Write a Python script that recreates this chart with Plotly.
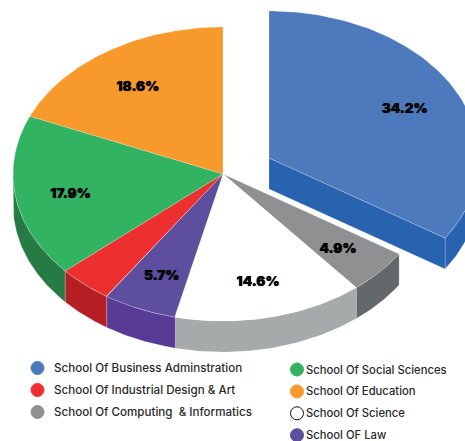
import numpy as np
import plotly.graph_objects as go

# Data, clockwise from 12 o'clock
schools = ["School Of Business Adminstration", "School Of Computing  & Informatics", "School Of Science",
           "School OF Law", "School Of Industrial Design & Art", "School Of Social Sciences", "School Of Education"]
shares = [34.2, 4.9, 14.6, 5.7, 4.2, 17.9, 18.6]
show_label = [True, True, True, True, False, True, True]
top_colors = ["#4C7ABD", "#8F9092", "#FFFFFF", "#5D4E9E", "#EE2F2F", "#32B362", "#F7992B"]
side_colors = ["#2863B0", "#63686A", "#A7AAAA", "#573B96", "#B51F24", "#267A43", "#D9861F"]
legend_left = ["School Of Business Adminstration", "School Of Industrial Design & Art", "School Of Computing  & Informatics"]
legend_right = ["School Of Social Sciences", "School Of Education", "School Of Science", "School OF Law"]

W, H = 465, 441
CX, CY, RX, RY, DEPTH = 223, 174, 210, 147, 31
EXPLODE = [(46, -16)] + [(0, 0)] * 6
LABEL_R = 0.735
LABEL_DY = 3.5
FONT = "Inter"
SEAM = "rgba(255,255,255,0.35)"


def pt(deg, ox=0, oy=0, dz=0, r=1.0):
    t = np.radians(deg)
    return CX + ox + RX * r * np.sin(t), CY + oy + dz - RY * r * np.cos(t)


def poly(fig, xs, ys, color):
    fig.add_trace(go.Scatter(x=list(xs), y=list(ys), mode="lines", fill="toself", fillcolor=color,
                             line=dict(color=SEAM, width=0.6), hoverinfo="skip", showlegend=False))


fig = go.Figure()
total = sum(shares)
edges = np.concatenate([[0], np.cumsum(shares)]) / total * 360

# side walls first
for i in range(len(shares)):
    a, b = edges[i], edges[i + 1]
    ox, oy = EXPLODE[i]
    lo, hi = max(a, 90), min(b, 270)
    if lo < hi:
        th = np.linspace(lo, hi, 60)
        x1, y1 = pt(th, ox, oy)
        x2, y2 = pt(th[::-1], ox, oy, DEPTH)
        poly(fig, np.r_[x1, x2, x1[0]], np.r_[y1, y2, y1[0]], side_colors[i])
    if (ox or oy) and 0 < b < 180:  # exposed cut face of the pulled-out slice
        xe, ye = pt(b, ox, oy)
        xc, yc = CX + ox, CY + oy
        poly(fig, [xc, xe, xe, xc, xc], [yc, ye, ye + DEPTH, yc + DEPTH, yc], side_colors[i])

# top faces
for i in range(len(shares)):
    a, b = edges[i], edges[i + 1]
    ox, oy = EXPLODE[i]
    th = np.linspace(a, b, 120)
    x, y = pt(th, ox, oy)
    poly(fig, np.r_[CX + ox, x, CX + ox], np.r_[CY + oy, y, CY + oy], top_colors[i])

# percentage labels
for i in range(len(shares)):
    if show_label[i]:
        ox, oy = EXPLODE[i]
        x, y = pt((edges[i] + edges[i + 1]) / 2, ox, oy, r=LABEL_R)
        fig.add_trace(go.Scatter(x=[x], y=[y + LABEL_DY], mode="text", text=[f"{shares[i]:.1f}%"],
                                 textposition="middle center",
                                 textfont=dict(family=FONT, size=13.5, color="#000000", weight=900,
                                               shadow="0 0 0.7px #000"),
                                 hoverinfo="skip", showlegend=False))

# legend
color_of = dict(zip(schools, top_colors))
columns = [(legend_left, 37.5, 54, 368, 22, 11.6), (legend_right, 297, 306, 369.5, 21.9, 11.25)]
annotations = []
for names, mx, tx, y0, dy, fs in columns:
    for k, name in enumerate(names):
        y = y0 + k * dy
        c = color_of[name]
        fig.add_trace(go.Scatter(x=[mx], y=[y], mode="markers",
                                 marker=dict(size=13, color=c, line=dict(color="#111111" if c == "#FFFFFF" else c, width=1)),
                                 hoverinfo="skip", showlegend=False))
        annotations.append(dict(x=tx, y=y, text=name, showarrow=False, xanchor="left", yanchor="middle", borderpad=0,
                                xshift=-1, font=dict(family=FONT, size=fs, color="#2A2A2A", weight=500)))

fig.update_layout(width=W, height=H, margin=dict(l=0, r=0, t=0, b=0), paper_bgcolor="white", plot_bgcolor="white",
                  xaxis=dict(range=[0, W], visible=False, fixedrange=True),
                  yaxis=dict(range=[H, 0], visible=False, fixedrange=True),
                  annotations=annotations, showlegend=False)
fig.write_html("out.html", config={"displayModeBar": False},
               post_script="document.body.style.margin='0';document.documentElement.style.overflow='hidden';")
